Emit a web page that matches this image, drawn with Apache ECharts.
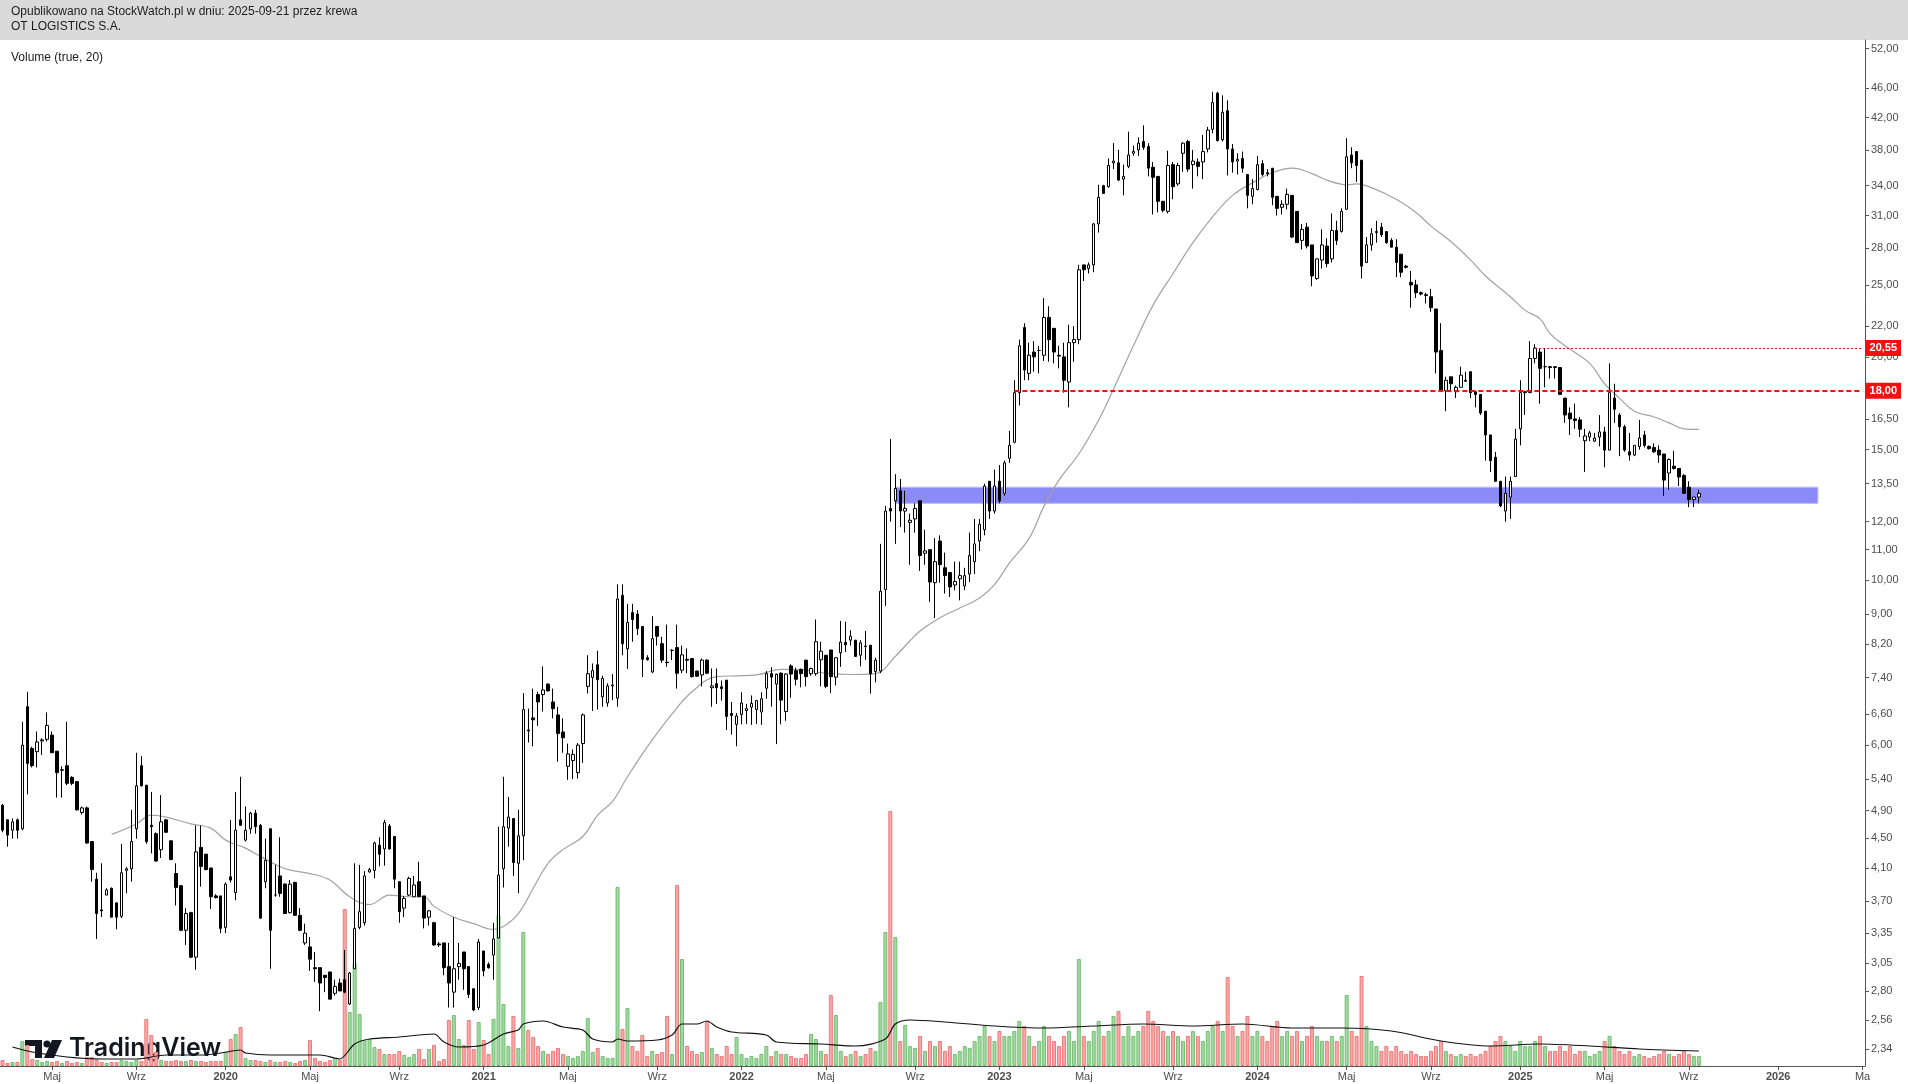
<!DOCTYPE html>
<html><head><meta charset="utf-8">
<script src="https://cdn.jsdelivr.net/npm/echarts@6/dist/echarts.min.js"></script>
<style>html,body{margin:0;padding:0;background:#fff;overflow:hidden}#c{width:1908px;height:1084px}</style>
</head><body><div id="c"></div>
<script>
// ---- data (weekly bars, first bar = week of 2019-02-25) ----
const firstWeek = '2019-02-25';
const weeksOnAxis = 376;
const open = [
4.98,4.76,4.61,4.76,4.63,6.76,5.94,5.88,6.08,6.11, 6.19,5.89,5.55,5.63,5.43,5.36,4.87,4.94,4.45,3.96,
3.60,3.77,3.85,3.68,3.53,4.07,4.09,4.63,5.63,5.30, 4.68,4.56,4.34,4.76,4.46,4.03,3.88,3.38,3.57,3.11,
4.37,4.28,4.10,3.76,3.76,3.41,3.99,3.80,4.76,4.47, 4.63,4.86,4.68,3.93,4.63,3.77,4.00,3.90,3.57,3.92,
3.54,3.25,3.21,3.01,3.01,2.94,2.97,2.78,2.87,2.90, 2.69,3.00,3.41,3.46,4.05,4.07,4.40,4.35,4.67,4.52,
3.93,3.62,3.77,3.75,3.93,3.76,3.52,3.46,3.24,3.25, 3.02,2.79,3.02,3.16,3.02,2.82,2.66,3.17,3.04,3.13,
3.30,4.09,4.64,4.78,4.16,4.53,6.29,6.53,7.02,7.02, 7.25,6.86,6.59,6.25,5.62,5.72,5.51,6.03,7.20,7.40,
7.70,6.97,6.84,7.21,6.94,9.55,8.09,9.05,9.01,8.67, 7.87,7.53,8.67,8.22,7.76,8.05,8.12,7.57,7.83,7.85,
7.55,7.46,7.81,7.17,7.26,7.19,7.34,6.62,6.40,6.60, 6.68,6.75,6.70,6.65,7.16,7.49,7.25,7.50,6.66,7.67,
7.56,7.59,7.81,7.49,7.49,7.82,7.93,8.06,7.41,7.99, 8.25,8.31,8.31,7.93,8.16,8.18,7.54,7.55,9.72,12.5,
12.8,13.2,12.4,11.97,12.1,12.8,10.88,11.0,9.93,11.3, 10.4,10.25,9.86,10.05,9.83,10.2,10.6,11.3,11.7,13.6,
12.4,13.6,13.1,14.6,15.35,17.9,21.9,19.0,20.3,20.4, 20.1,22.6,21.85,20.1,20.0,18.5,20.9,21.1,26.6,26.3,
26.6,30.2,34.0,33.9,36.5,36.5,34.7,36.1,37.6,38.0, 39.0,38.4,36.0,35.0,32.4,31.4,36.3,34.2,37.6,39.0,
36.3,36.6,36.6,38.1,40.5,45.3,39.2,42.9,38.1,36.7, 37.0,35.2,32.9,33.6,36.4,35.4,35.9,32.9,31.8,32.1,
33.0,31.4,28.7,29.9,28.3,25.5,27.0,28.2,27.1,29.6, 29.5,31.6,37.4,37.8,36.8,26.8,28.3,29.4,29.9,29.5,
28.7,28.1,27.5,26.5,25.2,25.0,24.4,24.25,24.1,23.2, 20.4,18.0,18.8,17.95,18.2,18.6,19.1,17.95,17.8,16.9,
15.7,14.65,13.6,12.4,12.95,13.8,16.0,17.9,17.9,19.9, 20.3,19.4,19.4,19.4,19.35,17.6,16.8,16.5,16.45,15.42,
15.6,15.4,15.6,15.85,14.98,17.6,16.7,16.1,14.9,14.75, 15.15,15.7,15.15,15.1,14.98,14.8,13.95,14.25,14.15,13.85,
13.35,12.85,12.95];
const high = [
5.00,4.77,4.78,4.78,6.45,7.08,5.97,6.26,6.13,6.64, 6.26,5.89,5.62,6.45,5.45,5.36,4.96,4.96,4.45,4.04,
4.16,3.85,3.86,3.68,4.42,4.11,4.91,5.86,5.80,5.30, 5.19,4.58,5.14,4.77,4.47,4.16,3.89,3.62,3.58,4.68,
4.68,4.28,4.10,3.78,3.76,3.92,4.76,5.19,5.44,4.96, 4.88,4.91,4.70,4.49,4.63,4.14,4.51,3.91,3.95,3.93,
3.62,3.45,3.31,3.16,3.01,2.94,2.97,2.90,2.91,3.18, 2.97,4.16,4.14,4.06,4.10,4.45,4.51,4.76,4.70,4.53,
3.93,3.76,3.99,4.00,4.18,3.76,3.60,3.47,3.26,3.25, 3.25,3.52,3.25,3.16,3.02,2.82,3.29,3.17,3.06,3.46,
4.66,5.44,5.11,4.78,4.91,7.05,6.72,7.15,7.08,7.66, 7.27,7.15,6.76,6.52,6.03,5.92,6.04,6.62,7.93,7.73,
8.04,7.44,7.27,7.48,9.88,9.88,9.30,9.30,9.12,8.67, 7.93,8.95,8.67,8.40,8.72,8.08,8.72,8.17,8.10,7.86,
7.56,7.85,7.83,7.61,7.61,7.33,7.34,6.86,6.63,7.07, 6.82,7.00,6.90,7.07,7.55,7.64,7.46,7.52,7.50,7.71,
7.63,7.61,7.82,7.63,8.86,8.27,7.93,8.06,7.87,8.82, 8.80,8.57,8.31,8.31,8.55,8.18,7.87,11.2,12.6,15.5,
13.9,13.7,13.2,12.3,12.7,12.8,11.7,11.0,11.4,11.5, 10.9,10.25,10.6,10.6,10.4,11.6,12.1,12.1,13.5,13.6,
14.1,14.3,14.5,15.9,18.6,21.1,22.2,20.9,21.0,20.7, 24.0,23.4,21.85,20.7,20.9,22.1,22.0,26.6,26.6,26.8,
30.3,34.1,34.1,37.0,38.8,38.0,36.3,40.2,38.5,39.5, 41.0,38.8,36.6,35.0,32.4,37.9,36.6,36.5,38.9,39.2,
38.0,37.0,39.8,40.8,45.5,45.5,45.0,44.3,38.7,37.6, 37.8,35.2,34.7,37.3,36.8,35.8,35.9,32.9,32.5,33.7,
33.0,31.4,30.2,30.3,28.3,27.1,29.7,28.9,31.2,30.5, 31.7,39.4,38.3,37.8,36.8,29.0,29.8,30.5,30.3,29.5,
28.9,28.8,27.5,26.6,26.1,25.4,24.5,24.4,24.7,23.2, 22.2,18.8,18.8,18.3,19.4,19.1,19.1,18.0,17.8,16.9,
15.7,14.9,13.6,13.8,13.8,16.0,18.6,18.0,21.0,20.8, 20.5,20.5,19.45,19.4,19.35,17.6,17.1,17.3,16.6,16.0,
15.9,15.8,16.7,16.1,19.6,18.4,16.8,16.2,15.8,15.2, 16.45,15.9,15.2,15.3,15.2,14.8,14.6,14.95,14.15,13.9,
13.6,12.95,13.25];
const low = [
4.58,4.38,4.49,4.49,4.61,5.15,5.60,5.60,5.82,6.07, 5.86,5.10,5.10,5.30,5.30,4.90,4.84,4.42,3.93,3.29,
3.52,3.77,3.52,3.39,3.51,3.79,3.93,4.49,5.28,4.42, 4.29,4.18,4.23,4.58,4.20,3.65,3.37,3.23,3.10,2.99,
3.87,4.07,3.61,3.73,3.35,3.35,3.92,3.71,4.68,4.45, 4.56,4.56,3.50,3.85,3.00,3.75,3.75,3.56,3.56,3.54,
3.37,3.23,2.98,2.88,2.63,2.79,2.73,2.76,2.80,2.78, 2.68,3.00,3.39,3.43,4.04,3.97,4.12,4.13,4.34,3.85,
3.46,3.52,3.76,3.75,3.75,3.40,3.43,3.22,3.21,2.94, 2.66,2.66,2.90,2.81,2.74,2.63,2.64,2.93,3.00,2.90,
3.30,3.86,4.38,4.00,3.79,4.20,6.05,5.98,6.37,6.66, 7.09,6.52,5.70,5.86,5.39,5.40,5.41,5.68,7.04,6.67,
6.70,6.76,6.76,6.90,6.76,7.93,7.60,8.27,8.44,7.41, 7.80,7.50,8.17,7.74,7.65,7.81,7.15,7.50,7.50,7.40,
7.42,7.20,7.48,6.76,6.82,6.89,6.29,6.20,5.98,6.40, 6.41,6.39,6.41,6.39,6.93,6.76,6.02,6.40,6.47,6.95,
7.22,7.18,7.20,7.44,7.44,7.20,7.16,7.05,7.22,7.65, 8.01,8.17,7.89,7.66,7.82,7.04,7.29,7.50,9.24,12.0,
11.2,11.8,11.6,10.5,11.6,10.3,10.5,9.36,8.90,9.93, 9.6,9.5,9.7,9.4,9.7,9.95,10.2,10.95,11.5,12.1,
12.3,12.7,13.0,14.4,15.3,17.2,18.6,18.6,19.1,19.0, 19.75,19.7,19.6,19.3,17.9,17.1,19.7,20.8,25.3,25.9,
26.0,29.4,33.2,33.8,35.8,34.5,33.0,35.9,37.3,37.3, 38.0,35.0,31.1,31.3,31.3,31.2,32.6,34.0,35.5,35.5,
33.7,35.0,34.7,37.7,40.0,39.0,39.0,35.1,35.4,35.2, 35.4,31.7,32.1,33.5,35.0,35.0,32.0,31.0,31.1,31.6,
28.9,28.5,27.9,28.0,24.9,25.4,26.3,26.4,26.8,28.3, 29.4,31.6,35.9,34.4,25.5,26.8,27.8,28.5,29.0,28.4,
28.1,25.6,25.6,26.3,23.3,24.0,24.2,23.6,23.0,19.0, 18.0,16.9,17.95,17.6,18.2,18.5,17.6,17.1,16.7,14.5,
14.0,13.6,12.55,12.0,12.1,13.8,15.2,16.7,17.9,19.6, 17.3,18.2,18.7,18.7,17.8,16.3,15.7,16.0,15.6,14.0,
15.4,15.37,15.15,14.2,14.98,16.3,14.7,14.9,14.5,14.7, 15.0,15.1,15.0,14.85,14.4,13.0,13.25,14.1,13.4,13.1,
12.55,12.55,12.7];
const close = [
4.61,4.54,4.73,4.61,6.00,5.67,5.63,6.06,6.10,6.38, 5.86,5.51,5.56,5.33,5.33,4.91,4.94,4.43,4.08,3.56,
3.59,3.83,3.52,3.52,4.04,4.09,4.45,5.29,5.29,4.45, 4.66,4.19,4.73,4.58,4.21,3.86,3.38,3.56,3.11,4.31,
4.12,4.08,3.75,3.74,3.40,3.90,3.95,4.61,4.68,4.61, 4.86,4.66,3.51,4.20,3.38,3.77,3.79,3.56,3.90,3.54,
3.38,3.35,3.09,3.00,2.87,2.92,2.73,2.84,2.80,2.79, 2.96,3.40,3.58,4.00,4.08,4.43,4.28,4.72,4.35,3.96,
3.58,3.73,3.97,3.89,3.75,3.51,3.59,3.23,3.23,3.01, 2.87,3.00,3.05,3.00,2.77,2.64,3.26,2.98,3.01,3.29,
4.01,4.66,4.80,4.17,4.53,6.70,6.27,6.49,6.86,7.12, 7.10,6.72,6.22,6.14,5.84,5.83,6.00,6.59,7.49,7.56,
7.35,7.38,7.21,7.23,9.44,8.22,8.78,8.86,8.61,7.83, 7.82,8.35,8.41,7.81,7.75,8.05,7.50,7.94,7.81,7.42,
7.43,7.81,7.50,7.21,7.17,7.15,6.56,6.58,6.57,6.84, 6.72,6.83,6.89,6.93,7.49,7.41,7.48,6.90,7.48,7.48,
7.36,7.49,7.42,7.61,8.27,8.03,7.20,7.42,7.87,8.26, 8.19,8.41,7.90,8.24,8.15,7.49,7.81,9.67,12.4,12.4,
13.3,12.4,12.5,12.05,12.5,10.8,10.96,9.95,10.6,10.5, 10.15,9.8,9.97,10.15,10.15,10.8,11.2,11.9,13.4,12.4,
13.4,12.8,14.4,15.2,17.9,20.7,19.2,20.1,20.0,20.4, 22.6,21.1,20.3,20.05,18.6,20.9,21.1,26.2,26.2,26.6,
30.2,32.8,33.2,36.2,36.7,34.6,35.0,37.4,37.8,38.8, 38.3,35.9,34.9,32.4,31.5,36.2,33.9,36.2,38.8,35.8,
36.7,36.1,37.8,40.4,44.0,39.1,42.7,38.1,36.6,36.9, 35.9,33.0,33.7,36.3,35.2,35.3,32.8,31.7,32.1,33.1,
29.0,28.5,29.7,28.2,25.7,27.1,28.3,26.7,29.6,28.7, 31.4,37.2,36.5,36.2,26.5,28.3,29.3,29.5,29.2,28.5,
28.1,26.8,26.0,26.4,25.0,24.4,24.3,24.2,23.3,20.3, 18.0,18.6,18.4,18.2,18.9,18.55,17.9,17.8,16.8,15.7,
14.5,13.6,12.6,13.1,13.6,15.5,17.9,17.95,19.9,20.55, 19.3,19.4,19.35,19.35,17.8,16.7,16.5,16.42,15.98,15.65,
15.8,15.55,15.85,14.98,17.9,17.0,16.1,14.98,14.75,15.2, 15.55,15.2,15.05,14.9,14.75,13.65,14.55,14.15,13.78,13.1,
12.85,12.95,13.1];
const volume = [
6,3,4,4,25,21,7,6,4,5, 4,5,3,5,3,4,3,9,9,6, 4,3,4,4,6,5,4,6,5,47, 31,14,6,5,5,6,5,5,6,5,
5,4,5,5,5,14,27,32,39,8, 6,6,5,4,6,4,4,5,4,3, 5,6,26,8,5,4,6,8,6,157, 54,103,52,26,27,19,17,12,12,12,
15,11,9,12,17,7,17,21,5,7, 46,51,27,21,46,17,44,26,12,47, 151,62,20,50,18,134,36,29,20,15, 12,15,18,12,10,8,10,15,48,14,
18,10,8,8,179,37,58,20,15,31, 10,15,12,14,50,12,181,107,20,15, 12,14,45,18,12,10,20,12,29,12, 8,10,8,12,20,10,15,12,12,10,
8,8,12,32,27,15,12,71,51,15, 10,12,15,10,12,18,15,64,134,255, 129,25,41,20,18,30,15,25,20,25, 15,20,12,15,20,18,25,30,40,30,
25,35,30,30,35,45,40,30,20,25, 40,30,25,20,30,35,25,107,30,25, 35,45,30,35,50,55,30,40,30,35, 40,55,45,40,35,30,35,30,25,30,
35,30,25,35,40,45,35,89,40,30, 35,50,30,35,30,25,40,45,30,35, 30,35,25,30,40,30,25,25,30,25, 30,71,35,30,90,40,25,20,15,20,
15,20,15,12,15,12,10,10,15,20, 25,15,12,10,12,10,12,10,12,15, 20,25,30,25,20,15,25,20,20,25, 30,20,15,15,20,15,20,12,15,15,
10,12,15,25,30,20,15,12,15,10, 12,10,8,10,12,15,12,10,12,15, 12,10,10];
// moving average of price (gray line): [week number, value]
const priceMA = [[22,4.55],[27,4.70],[30,4.83],[33,4.80],[38,4.70],[42,4.64],[45,4.47],[49,4.36],[52,4.25],[57,4.09],
[62,4.03],[66,3.95],[70,3.75],[74,3.66],[78,3.77],[82,3.75],[85,3.75],[87,3.64],[91,3.52],[95,3.45],[99,3.39],[101,3.42],
[104,3.56],[107,3.85],[110,4.16],[113,4.34],[117,4.52],[120,4.83],[123,5.04],[126,5.44],[130,5.97],[135,6.61],[139,7.08],
[144,7.42],[148,7.44],[152,7.46],[157,7.59],[162,7.57],[166,7.50],[171,7.47],[176,7.49],[180,7.9],[183,8.3],[185,8.55],
[189,8.91],[193,9.18],[197,9.47],[200,9.87],[203,10.55],[207,11.4],[210,12.6],[213,13.65],[217,14.8],[221,16.44],[224,18.1],
[228,20.7],[232,23.5],[236,25.9],[240,28.5],[244,30.9],[248,33.0],[252,34.3],[256,35.4],[260,35.9],[264,35.3],[267,34.6],
[271,34.1],[273,34.2],[276,33.8],[281,32.6],[285,31.3],[288,30.0],[292,28.6],[296,27.0],[299,25.7],[304,24.1],[307,23.1],
[310,22.5],[312,21.5],[315,20.7],[320,19.6],[323,18.4],[326,17.6],[329,16.9],[333,16.6],[336,16.3],[339,16.0],[342,15.97]];
// volume moving average (20): [week number, value]
const volumeMA = [[2,19],[6,14],[13,9],[20,7],[27,7],[33,11],[40,11],[44,13],[48,16],[49,13],[54,11],[60,11],[64,11],[67,8],
[68,7],[71,22],[74,27],[80,29],[87,32],[89,24],[92,19],[97,21],[101,32],[104,36],[105,42],[109,45],[113,39],[117,36],
[119,27],[123,24],[124,27],[126,25],[132,26],[135,31],[137,42],[140,42],[142,45],[144,39],[147,34],[154,31],[156,24],
[165,22],[172,20],[178,27],[180,42],[183,46],[190,44],[200,40],[210,38],[220,40],[230,42],[240,40],[250,42],[260,38],
[270,38],[280,35],[290,25],[300,20],[310,22],[320,20],[330,17],[342,15]];
const priceTicks = [52,46,42,38,34,31,28,25,22,20,18,16.5,15,13.5,12,11,10,9,8.2,7.4,6.6,6,5.4,4.9,4.5,4.1,3.7,3.35,3.05,2.8,2.56,2.34];
const supportLine = 18.00, supportFromWeek = 204;
const resistLine = 20.55, resistFromWeek = 309;
const zoneLow = 12.70, zoneHigh = 13.35, zoneFromWeek = 180, zoneToWeek = 366;
const priceMin = 2.219, priceMax = 53.42;

// ---- build ----
const DAY = 864e5;
const t0 = Date.parse(firstWeek + 'T00:00:00Z');
const dates = [];
for (let i = 0; i < weeksOnAxis; i++) dates.push(new Date(t0 + i * 7 * DAY).toISOString().slice(0, 10));
const L = Math.log;
const candles = open.map((o, i) => [L(o), L(close[i]), L(low[i]), L(high[i])]);
const volBars = volume.map((v, i) => {
  const up = close[i] >= open[i];
  return {value: v, itemStyle: {color: up ? '#a3d6a3' : '#f7a8a8', borderColor: up ? '#72c072' : '#ef7a7a'}};
});
const isMark = (i) => { const d = new Date(t0 + i * 7 * DAY); return d.getUTCDate() <= 7 && [0, 4, 8].includes(d.getUTCMonth()); };
const fmtPrice = v => Math.exp(v).toFixed(2).replace('.', ',');
const FONT = 'Liberation Sans, Arial, sans-serif';

const chart = echarts.init(document.getElementById('c'), null, {renderer: 'canvas'});
chart.setOption({
  animation: false,
  backgroundColor: '#ffffff',
  grid: [
    {left: 0, right: 43, top: 40, bottom: 18},
    {left: 0, right: 43, top: 766, bottom: 18}
  ],
  xAxis: [
    {type: 'category', gridIndex: 0, data: dates, boundaryGap: true,
     axisLine: {show: true, lineStyle: {color: '#555', width: 1}},
     axisTick: {show: true, alignWithLabel: true, interval: (i) => isMark(i), length: 4, lineStyle: {color: '#555'}},
     axisLabel: {show: true, interval: (i) => isMark(i), margin: 5, color: '#4d4d4d', fontSize: 11, fontFamily: FONT,
       formatter: (v, i) => { const d = new Date(v + 'T00:00:00Z'); const m = d.getUTCMonth();
         if (i === weeksOnAxis - 1) return 'Ma';
         return m === 0 ? '{y|' + d.getUTCFullYear() + '}' : (m === 4 ? 'Maj' : 'Wrz'); },
       rich: {y: {fontWeight: 'bold', color: '#4d4d4d', fontSize: 11, fontFamily: FONT}}},
     splitLine: {show: false}},
    {type: 'category', gridIndex: 1, data: dates, boundaryGap: true, show: false}
  ],
  yAxis: [
    {type: 'value', gridIndex: 0, position: 'right', min: L(priceMin), max: L(priceMax), scale: true,
     axisLine: {show: true, lineStyle: {color: '#555', width: 1}},
     axisTick: {show: true, customValues: priceTicks.map(L), length: 4, lineStyle: {color: '#555'}},
     axisLabel: {show: true, customValues: priceTicks.map(L), formatter: fmtPrice, color: '#4d4d4d', fontSize: 11, fontFamily: FONT, margin: 6},
     splitLine: {show: false}},
    {type: 'value', gridIndex: 1, min: 0, max: 300, show: false}
  ],
  series: [
    {type: 'line', name: 'zone', xAxisIndex: 0, yAxisIndex: 0, z: 1, silent: true, symbol: 'none',
     data: [[dates[zoneFromWeek], L(zoneLow)]],
     markArea: {silent: true, itemStyle: {color: '#8b8bf7', borderColor: '#b8b8f8', borderWidth: 1},
       data: [[{xAxis: dates[zoneFromWeek], yAxis: L(zoneHigh)}, {xAxis: dates[zoneToWeek], yAxis: L(zoneLow)}]]}},
    {type: 'line', name: 'MA', xAxisIndex: 0, yAxisIndex: 0, z: 2, silent: true, symbol: 'none', smooth: 0.4,
     lineStyle: {color: '#a2a2a2', width: 1.2},
     data: priceMA.map(([w, v]) => [dates[w], L(v)])},
    {type: 'bar', name: 'Volume', xAxisIndex: 1, yAxisIndex: 1, z: 2, silent: true, barWidth: 4,
     itemStyle: {borderWidth: 1}, data: volBars},
    {type: 'line', name: 'VolMA', xAxisIndex: 1, yAxisIndex: 1, z: 3, silent: true, symbol: 'none', smooth: 0.3,
     lineStyle: {color: '#111', width: 1.2},
     data: volumeMA.map(([w, v]) => [dates[w], v])},
    {type: 'candlestick', name: 'OT LOGISTICS', xAxisIndex: 0, yAxisIndex: 0, z: 4, silent: true, barWidth: 3,
     itemStyle: {color: '#ffffff', color0: '#000000', borderColor: '#000000', borderColor0: '#000000', borderWidth: 1},
     data: candles},
    {type: 'line', name: 'levels', xAxisIndex: 0, yAxisIndex: 0, z: 6, silent: true, symbol: 'none',
     data: [[dates[supportFromWeek], L(supportLine)]],
     markLine: {silent: true, symbol: 'none', animation: false,
       data: [
         [{coord: [dates[supportFromWeek], L(supportLine)], lineStyle: {color: '#ee1111', width: 2, type: [5, 3]},
           label: {show: true, position: 'end', formatter: '18,00', color: '#fff', backgroundColor: '#f50f0f', fontWeight: 'bold', fontSize: 11, fontFamily: FONT, padding: [3, 4, 2, 4], distance: 3}},
          {coord: [dates[weeksOnAxis - 1], L(supportLine)]}],
         [{coord: [dates[resistFromWeek], L(resistLine)], lineStyle: {color: '#cc1111', width: 1, type: [2, 2]},
           label: {show: true, position: 'end', formatter: '20,55', color: '#fff', backgroundColor: '#f50f0f', fontWeight: 'bold', fontSize: 11, fontFamily: FONT, padding: [3, 4, 2, 4], distance: 3}},
          {coord: [dates[weeksOnAxis - 1], L(resistLine)]}]
       ]}}
  ],
  graphic: [
    {type: 'rect', left: 0, top: 0, z: 0, shape: {width: 1908, height: 40}, style: {fill: '#dadada'}},
    {type: 'text', left: 11, top: 6, z: 10, style: {text: 'Opublikowano na StockWatch.pl w dniu: 2025-09-21 przez krewa', fill: '#1c1c1c', font: '12px ' + FONT}},
    {type: 'text', left: 11, top: 21, z: 10, style: {text: 'OT LOGISTICS S.A.', fill: '#1c1c1c', font: '12px ' + FONT}},
    {type: 'text', left: 11, top: 52, z: 10, style: {text: 'Volume (true, 20)', fill: '#1c1c1c', font: '12px ' + FONT}},
    {type: 'group', left: 25, top: 1036, z: 20, children: [
      {type: 'polygon', shape: {points: [[0,0],[17,0],[17,18],[10,18],[10,6],[0,6]]}, style: {fill: '#131722'}},
      {type: 'circle', shape: {cx: 22, cy: 4, r: 3.6}, style: {fill: '#131722'}},
      {type: 'polygon', shape: {points: [[27,0],[37,0],[29,18],[19,18]]}, style: {fill: '#131722'}},
      {type: 'text', x: 44, y: -4, style: {text: 'TradingView', fill: '#131722', font: '600 25px Inter, Roboto, sans-serif'}}
    ]}
  ]
});
</script>
</body></html>
